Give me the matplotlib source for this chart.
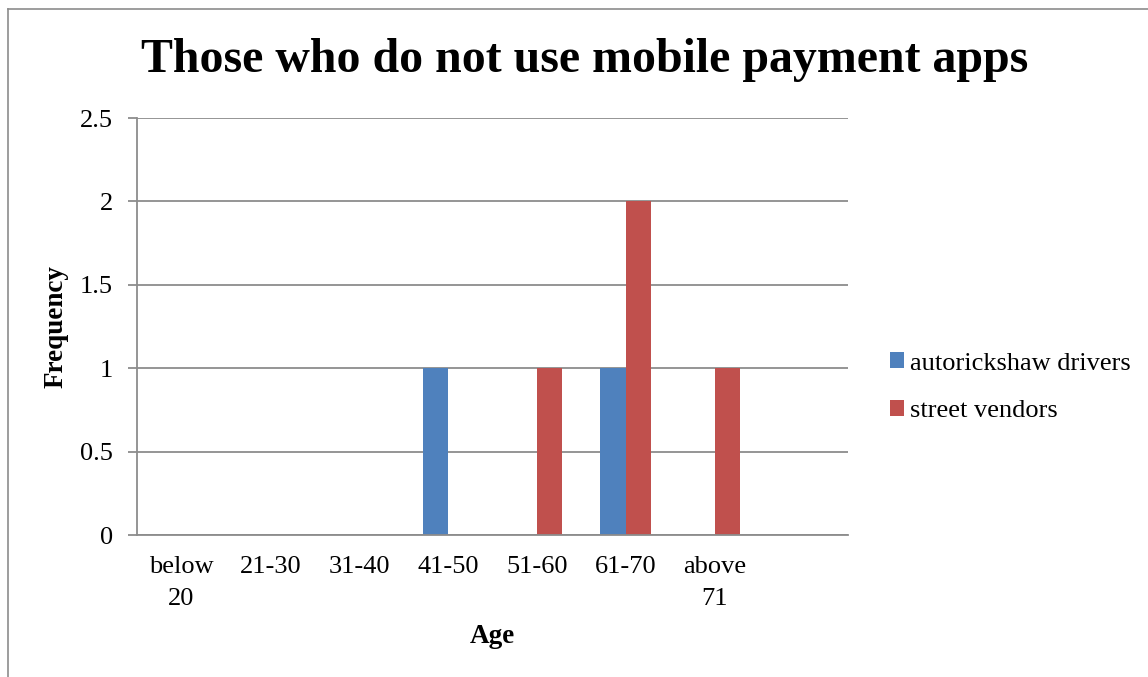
import matplotlib
matplotlib.use('Agg')
import matplotlib.pyplot as plt
from matplotlib.lines import Line2D
import numpy as np

# data
categories = ['below\n20', '21-30', '31-40', '41-50', '51-60', '61-70', 'above\n71']
autorickshaw = [0, 0, 0, 1, 0, 1, 0]
street_vendors = [0, 0, 0, 0, 1, 2, 1]
series_names = ['autorickshaw drivers', 'street vendors']
y_ticks = [0, 0.5, 1, 1.5, 2, 2.5]

BLUE = '#4F81BD'
RED = '#C0504D'
GRID = '#8C8C8C'

plt.rcParams['font.family'] = ['Liberation Serif', 'DejaVu Serif']

fig = plt.figure(figsize=(11.48, 6.77), dpi=100)
ax = fig.add_axes([0.1193, 0.2097, 0.6194, 0.616])

x = np.arange(len(categories))
w = 0.285
ax.bar(x - w / 2, autorickshaw, w, color=BLUE, label=series_names[0], linewidth=0)
ax.bar(x + w / 2, street_vendors, w, color=RED, label=series_names[1], linewidth=0)

ax.set_xlim(-0.5, len(categories) + 0.5)
ax.set_ylim(0, 2.5)
ax.set_yticks(y_ticks)
ax.set_yticklabels([f'{v:g}' for v in y_ticks], fontsize=19)
ax.set_xticks(x)
ax.set_xticklabels(categories, fontsize=19, linespacing=1.6)

ax.tick_params(axis='y', length=6.5, width=1.3, color=GRID, pad=11)
ax.tick_params(axis='x', length=0, pad=15)

ax.yaxis.grid(True, color=GRID, linewidth=1.3)
ax.set_axisbelow(True)
for side in ['top', 'right']:
    ax.spines[side].set_visible(False)
for side in ['left', 'bottom']:
    ax.spines[side].set_color(GRID)
    ax.spines[side].set_linewidth(1.3)

ax.set_ylabel('Frequency', fontsize=19.5, fontweight='bold', labelpad=8)
ax.set_xlabel('Age', fontsize=19.5, fontweight='bold', labelpad=10)

fig.text(0.509, 0.912, 'Those who do not use mobile payment apps',
         ha='center', va='center', fontsize=34.5, fontweight='bold')

fig.legend(loc='center left', bbox_to_anchor=(0.7545, 0.428), frameon=False,
           fontsize=19, handlelength=0.55, handleheight=0.55, handletextpad=0.2,
           labelspacing=0.95)

# outer chart frame (top and left edges visible)
fig.add_artist(Line2D([8 / 1148, 1], [1 - 9 / 677, 1 - 9 / 677],
                      transform=fig.transFigure, color='#8C8C8C', linewidth=1.2))
fig.add_artist(Line2D([8 / 1148, 8 / 1148], [0, 1 - 9 / 677],
                      transform=fig.transFigure, color='#8C8C8C', linewidth=1.2))

fig.savefig('out.png', dpi=100)
plt.close(fig)
